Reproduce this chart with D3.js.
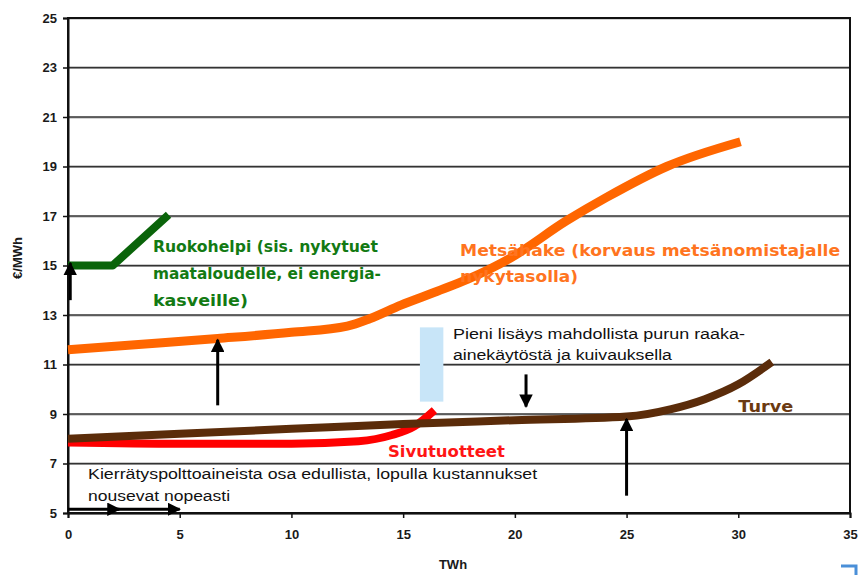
<!DOCTYPE html>
<html>
<head>
<meta charset="utf-8">
<script src="https://cdn.jsdelivr.net/npm/d3@7"></script>
<style>
  body { margin: 0; background: #fff; }
  svg { display: block; }
</style>
</head>
<body>
<svg></svg>
<script>
// TWh, €/MWh
const metsahakeX = [0, 3, 6.7, 10, 12.5, 13.5, 14.9, 16.5, 17.9, 19.8, 22.3, 24.1, 26.8, 30.1];
const metsahakeY = [11.6, 11.8, 12.05, 12.3, 12.55, 12.85, 13.4, 13.95, 14.45, 15.3, 16.8, 17.75, 19.0, 20.0];
const turveX = [0, 5, 10, 15, 20, 25, 27, 28.5, 30, 31.5];
const turveY = [8.0, 8.2, 8.4, 8.6, 8.75, 8.9, 9.2, 9.6, 10.2, 11.1];
const sivuX = [0, 5, 10, 13, 14.5, 15.5, 16.4];
const sivuY = [7.85, 7.8, 7.8, 7.9, 8.15, 8.5, 9.15];
const ruokoX = [0, 2, 4.5];
const ruokoY = [15, 15, 17.05];

const xTicks = [0, 5, 10, 15, 20, 25, 30, 35];
const yTicks = [5, 7, 9, 11, 13, 15, 17, 19, 21, 23, 25];

// arrows in data units: [x1, y1, x2, y2]
const arrows = [
  [0.1, 13.6, 0.1, 15.1],
  [6.7, 9.35, 6.7, 12.0],
  [20.5, 10.6, 20.5, 9.3],
  [25, 5.7, 25, 8.8],
  [0, 5.15, 2.3, 5.15],
  [2.1, 5.15, 5, 5.15]
];
// light blue band: x0, x1, y0, y1
const band = [15.75, 16.8, 9.5, 12.5];

var w = 860;
var h = 575;
const margin = { top: 18, bottom: 62, left: 68, right: 10 };
const innerWidth = w - margin.left - margin.right;
const innerHeight = h - margin.top - margin.bottom;

let svg = d3.select("svg").attr("width", w).attr("height", h);
const g = svg.append("g")
  .attr("transform", `translate(${margin.left}, ${margin.top})`);

let xScale = d3.scaleLinear().domain([0, 35]).range([0, innerWidth]);
let yScale = d3.scaleLinear().domain([5, 25]).range([innerHeight, 0]);

// gridlines (dark line with a soft grey shadow under it)
g.selectAll(".grid")
  .data(yTicks)
  .enter()
  .append("line")
  .attr("x1", 0).attr("x2", innerWidth)
  .attr("y1", d => yScale(d) + 1).attr("y2", d => yScale(d) + 1)
  .attr("stroke", "#aaa").attr("stroke-width", 1.2);
g.selectAll(".grid2")
  .data(yTicks)
  .enter()
  .append("line")
  .attr("x1", 0).attr("x2", innerWidth)
  .attr("y1", d => yScale(d)).attr("y2", d => yScale(d))
  .attr("stroke", "#333").attr("stroke-width", 1.3);

// frame
g.append("rect")
  .attr("width", innerWidth).attr("height", innerHeight)
  .attr("fill", "none").attr("stroke", "#111").attr("stroke-width", 2);

// axes
let yAxisG = g.append("g")
  .call(d3.axisLeft(yScale).tickValues(yTicks).tickSize(5).tickPadding(6));
let xAxisG = g.append("g")
  .attr("transform", `translate(0,${innerHeight})`)
  .call(d3.axisBottom(xScale).tickValues(xTicks).tickSize(5).tickPadding(12));
[yAxisG, xAxisG].forEach(a => {
  a.select(".domain").attr("stroke", "#111").attr("stroke-width", 2);
  a.selectAll(".tick line").attr("stroke", "#111").attr("stroke-width", 1.5);
  a.selectAll("text")
    .attr("fill", "#1a1a1a")
    .attr("font-family", "'Liberation Sans', Arial, sans-serif")
    .attr("font-size", 13)
    .attr("font-weight", "bold");
});

// light blue band
g.append("rect")
  .attr("x", xScale(band[0])).attr("width", xScale(band[1]) - xScale(band[0]))
  .attr("y", yScale(band[3])).attr("height", yScale(band[2]) - yScale(band[3]))
  .attr("fill", "#c8e5f8");

function drawSeries(xs, ys, color, curve, width) {
  let pts = xs.map((x, i) => [x, ys[i]]);
  let line = d3.line()
    .x(d => xScale(d[0]))
    .y(d => yScale(d[1]))
    .curve(curve);
  g.append("path")
    .datum(pts)
    .attr("d", line)
    .attr("fill", "none")
    .attr("stroke", color)
    .attr("stroke-width", width)
    .attr("stroke-linejoin", "round");
}

drawSeries(sivuX, sivuY, "#ff0000", d3.curveMonotoneX, 8);
drawSeries(turveX, turveY, "#5b2c0a", d3.curveMonotoneX, 8);
drawSeries(metsahakeX, metsahakeY, "#ff6600", d3.curveMonotoneX, 9);
drawSeries(ruokoX, ruokoY, "#0a640a", d3.curveLinear, 8);

// arrow marker
svg.append("defs").append("marker")
  .attr("id", "head")
  .attr("viewBox", "0 0 10 10")
  .attr("refX", 9).attr("refY", 5)
  .attr("markerWidth", 4.5).attr("markerHeight", 4.5)
  .attr("markerUnits", "strokeWidth")
  .attr("orient", "auto")
  .append("path")
  .attr("d", "M0,0 L10,5 L0,10 Z")
  .attr("fill", "#000");

g.selectAll(".arrow")
  .data(arrows)
  .enter()
  .append("line")
  .attr("x1", d => xScale(d[0])).attr("y1", d => yScale(d[1]))
  .attr("x2", d => xScale(d[2])).attr("y2", d => yScale(d[3]))
  .attr("stroke", "#000")
  .attr("stroke-width", 3)
  .attr("marker-end", "url(#head)");

// text labels: x, y in data units, lines, width of each line
function label(x, y, lines, widths, color, size, bold, gap) {
  lines.forEach((s, i) => {
    g.append("text")
      .attr("x", xScale(x))
      .attr("y", yScale(y) + i * gap)
      .attr("text-anchor", "start")
      .attr("fill", color)
      .attr("textLength", widths[i])
      .attr("lengthAdjust", "spacingAndGlyphs")
      .attr("font-family", bold ? "'DejaVu Sans', Verdana, sans-serif" : "'Liberation Sans', Arial, sans-serif")
      .attr("font-size", size)
      .attr("font-weight", bold ? "bold" : "normal")
      .text(s);
  });
}

label(3.8, 15.55, ["Ruokohelpi (sis. nykytuet", "maataloudelle, ei energia-", "kasveille)"],
  [225, 228, 95], "#137a13", 15, true, 27);
label(17.55, 15.4, ["Metsähake (korvaus metsänomistajalle", "nykytasolla)"],
  [380, 118], "#ff7420", 15, true, 26);
label(17.23, 12.05, ["Pieni lisäys mahdollista purun raaka-", "ainekäytöstä ja kuivauksella"],
  [292, 219], "#111", 14, false, 21);
label(30.0, 9.08, ["Turve"], [55], "#6b3a12", 15, true, 0);
label(14.32, 7.27, ["Sivutuotteet"], [117], "#ff1515", 15, true, 0);
label(0.9, 6.37, ["Kierrätyspolttoaineista osa edullista, lopulla kustannukset", "nousevat nopeasti"],
  [449, 142], "#111", 14, false, 22);

// axis titles
svg.append("text")
  .attr("x", 453).attr("y", 569)
  .attr("text-anchor", "middle")
  .attr("font-family", "'Liberation Sans', Arial, sans-serif")
  .attr("font-size", 13).attr("font-weight", "bold")
  .attr("fill", "#1a1a1a")
  .text("TWh");
svg.append("text")
  .attr("transform", "translate(22,258)rotate(-90)")
  .attr("text-anchor", "middle")
  .attr("font-family", "'Liberation Sans', Arial, sans-serif")
  .attr("font-size", 13).attr("font-weight", "bold")
  .attr("fill", "#1a1a1a")
  .text("€/MWh");

// small blue corner mark
svg.append("path")
  .attr("d", "M841,566 L856,566 L856,575")
  .attr("fill", "none").attr("stroke", "#4a8fd8").attr("stroke-width", 3);
</script>
</body>
</html>
